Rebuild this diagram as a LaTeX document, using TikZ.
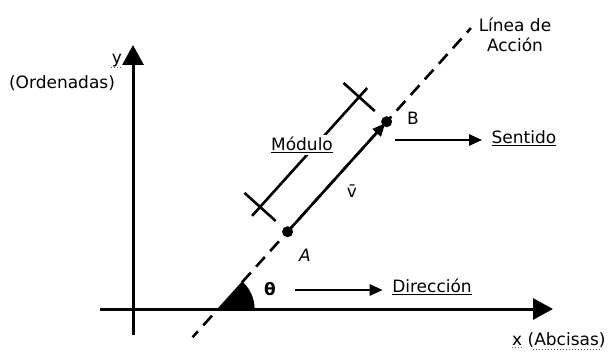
\documentclass[tikz,border=0pt]{standalone}
\usepackage{fontspec}
\setmainfont{DejaVu Sans}
\usetikzlibrary{arrows.meta,calc}
\begin{document}
\begin{tikzpicture}[x=1pt,y=1pt,font=\fontsize{17}{20}\selectfont,
		axis/.style={line width=3pt,-{Triangle[width=21pt,length=20pt]}},
		arr/.style={line width=2.6pt,-{Triangle[width=11pt,length=13pt]}},
		dot/.style={circle,fill,inner sep=0pt,minimum size=11pt},
		dashline/.style={line width=2.6pt,dash pattern=on 13pt off 8pt},
		squig/.style={line width=1pt,dotted}]
	\useasboundingbox (0,0) rectangle (608,351);
	% ejes
	\coordinate (xi) at (100,42);
	\coordinate (xf) at (553,42);
	\coordinate (yi) at (133,16);
	\coordinate (yf) at (133,306);
	\coordinate (O) at (218,42);
	\draw[axis] (xi) -- (xf);
	\draw[axis] (yi) -- (yf);
	\node[anchor=base west,inner sep=0pt] (xlab) at (512,6) {x};
	\node[anchor=base west,inner sep=0pt] (abc) at ($(xlab.base east)+(5,0)$) {(Abcisas)};
	\draw[squig,green!60!black] ($(xlab.south west)+(0,-2)$) -- ($(xlab.south east)+(0,-2)$);
	\draw[squig,red] ($(abc.south west)+(6,-2)$) -- ($(abc.south east)+(-6,-2)$);
	\node (ylab) at (117,290) {y};
	\draw[squig,green!60!black] ($(ylab.south west)+(3,3)$) -- ($(ylab.south east)+(-3,3)$);
	\node (ord) at (62,268) {(Ordenadas)};
	% linea de accion
	\coordinate (li) at ($(O)+(228:38)$);
	\coordinate (ls) at ($(O)+(48:36)$);
	\coordinate (lf) at ($(O)+(48:378)$);
	\draw[dashline,dash phase=5pt] (li) -- (O);
	\draw[dashline] (ls) -- (lf);
	\filldraw[line width=1.2pt,line join=round] (O) -- ++(36,0) arc[start angle=0,end angle=48,radius=36] -- cycle;
	\node[align=center] (lin) at (515,316) {Línea de\\Acción};
	% vector
	\node[dot] (A) at ($(O)+(48:104)$) {};
	\node[dot] (B) at ($(O)+(48:252)$) {};
	\draw[arr,shorten >=2pt] (A.center) -- (B.center);
	\node (Alab) at (305,96) {\textit{A}};
	\node (Blab) at (413,233) {B};
	\node (v) at (352,160) {\=v};
	% modulo
	\coordinate (M1) at ($(A)+(138:37)$);
	\coordinate (M2) at ($(B)+(138:37)$);
	\draw[line width=2.6pt] ($(M1)+(228:12)$) -- ($(M2)+(48:12)$);
	\draw[line width=2.6pt] ($(M1)+(138:21)$) -- ($(M1)+(318:21)$);
	\draw[line width=2.6pt] ($(M2)+(138:21)$) -- ($(M2)+(318:21)$);
	\node[fill=white,inner sep=2pt] (mod) at (302,206) {\underline{Módulo}};
	% direccion y sentido
	\node (theta) at (270,62) {\textbf{θ}};
	\node (dir) at (432,64) {\underline{Dirección}};
	\coordinate (d0) at (295,61);
	\draw[arr] (d0) -- ([xshift=-6pt]dir.west |- d0);
	\node (sen) at (524,213) {\underline{Sentido}};
	\coordinate (s0) at (395,211);
	\draw[arr] (s0) -- ([xshift=-6pt]sen.west |- s0);
\end{tikzpicture}
\end{document}
